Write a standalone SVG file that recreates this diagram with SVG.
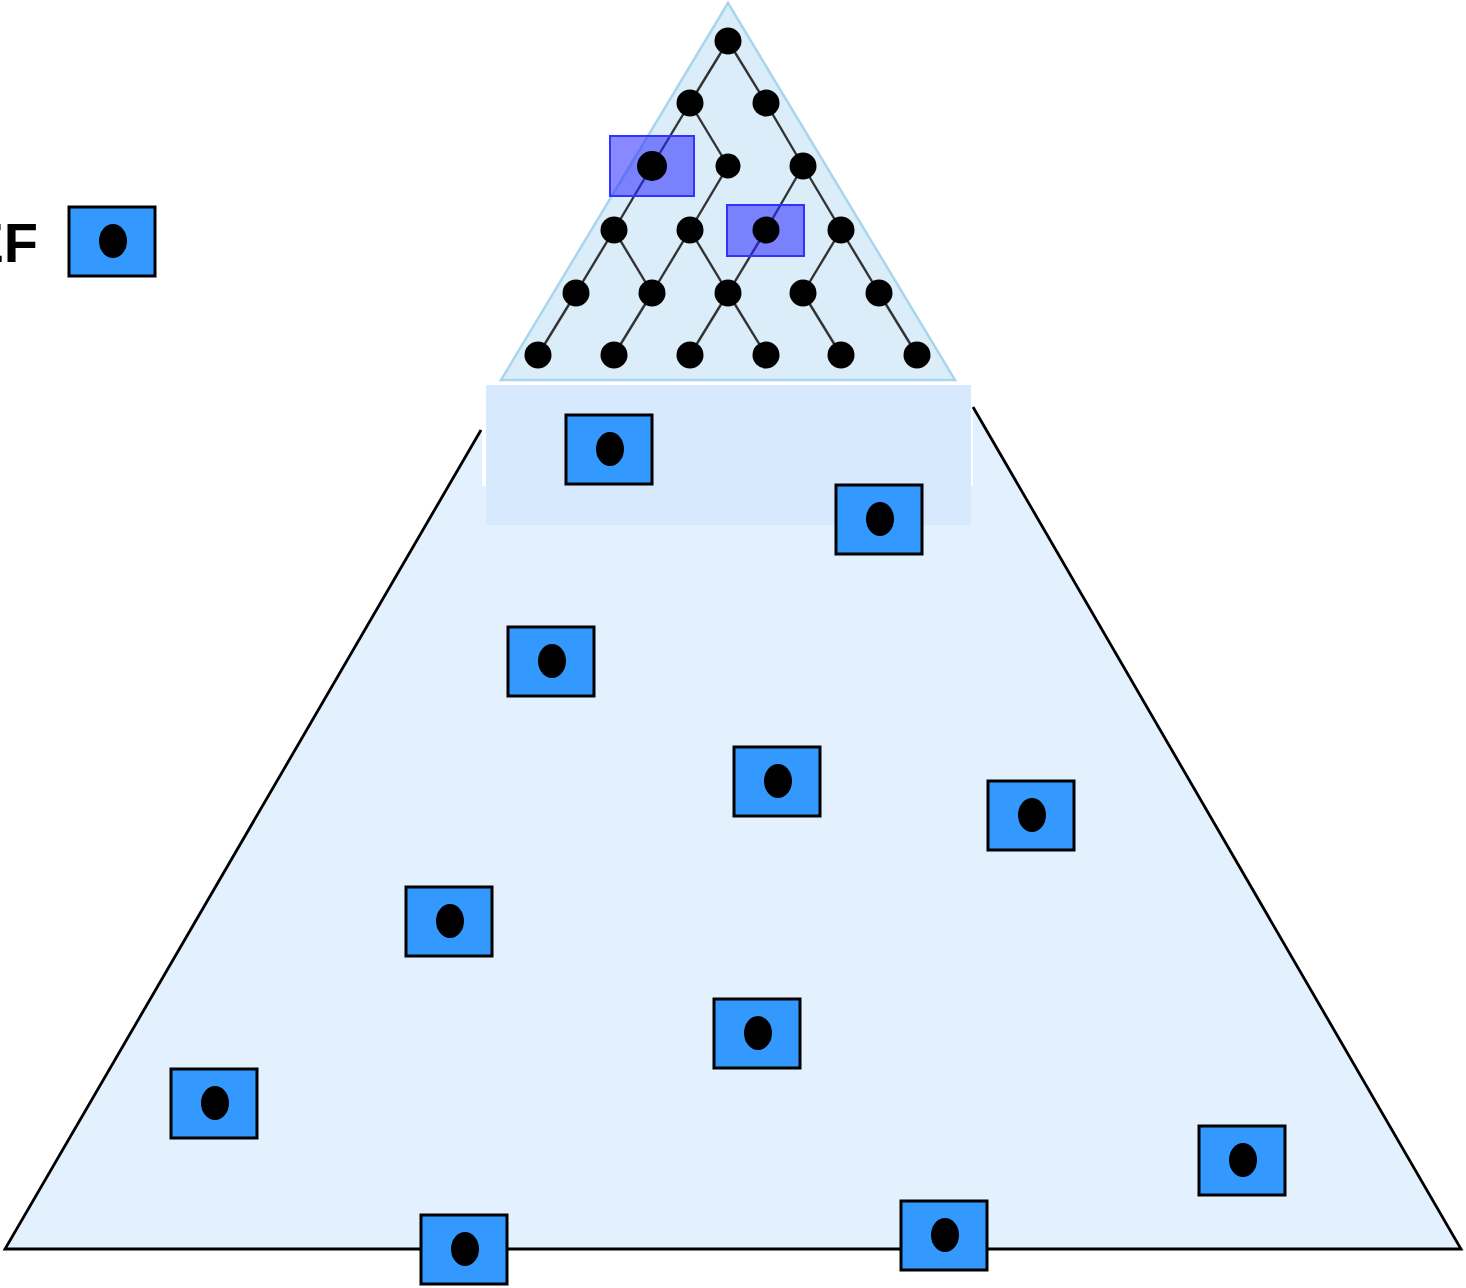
<svg xmlns="http://www.w3.org/2000/svg" width="1466" height="1288" viewBox="0 0 1466 1288">
<style>
.box{fill:#3399ff;stroke:#000;stroke-width:3}
.dot{fill:#000}
.edge{stroke:#333;stroke-width:2.4;fill:none}
.hl{fill:rgba(40,40,255,0.55);stroke:#3333ff;stroke-width:2}
.lbl{font-family:"Liberation Sans",Arial,sans-serif;font-weight:bold;font-size:56px;fill:#000}
</style>
<defs>
<g id="cell"><rect class="box" x="-43" y="-35" width="86" height="69"/><ellipse class="dot" cx="1" cy="-1" rx="14" ry="17"/></g>
</defs>
<rect width="1466" height="1288" fill="#fff"/>
<g id="big-triangle">
<polygon points="5,1249 481,430 482,430 482,486 973,486 973,407 1461,1249" fill="#e3f1fe"/>
<polyline points="481,430 5,1249 1461,1249 973,407" fill="none" stroke="#000" stroke-width="2.8" stroke-linejoin="miter"/>
</g>
<g id="small-triangle">
<polygon points="728,3 501,380 955,380" fill="#dcedfa" stroke="#a8d6ec" stroke-width="2.5"/>
</g>
<rect id="band" x="486" y="385" width="485" height="140" fill="#d7e9fc"/>
<g id="connectors" class="edge">
<line x1="728" y1="41" x2="690" y2="103"/>
<line x1="728" y1="41" x2="766" y2="103"/>
<line x1="690" y1="103" x2="652" y2="166"/>
<line x1="690" y1="103" x2="728" y2="166"/>
<line x1="766" y1="103" x2="803" y2="166"/>
<line x1="652" y1="166" x2="614" y2="230"/>
<line x1="728" y1="166" x2="690" y2="230"/>
<line x1="803" y1="166" x2="766" y2="230"/>
<line x1="803" y1="166" x2="841" y2="230"/>
<line x1="614" y1="230" x2="576" y2="293"/>
<line x1="614" y1="230" x2="652" y2="293"/>
<line x1="690" y1="230" x2="652" y2="293"/>
<line x1="690" y1="230" x2="728" y2="293"/>
<line x1="766" y1="230" x2="728" y2="293"/>
<line x1="841" y1="230" x2="803" y2="293"/>
<line x1="841" y1="230" x2="879" y2="293"/>
<line x1="576" y1="293" x2="538" y2="355"/>
<line x1="652" y1="293" x2="614" y2="355"/>
<line x1="728" y1="293" x2="690" y2="355"/>
<line x1="728" y1="293" x2="766" y2="355"/>
<line x1="803" y1="293" x2="841" y2="355"/>
<line x1="879" y1="293" x2="917" y2="355"/>
</g>
<g id="highlight-1"><rect class="hl" x="610" y="136" width="84" height="60"/></g>
<g id="highlight-2"><rect class="hl" x="727" y="205" width="77" height="51"/></g>
<g id="tree-nodes" class="dot">
<circle id="t0" cx="728" cy="41" r="13.5"/>
<circle id="t1" cx="690" cy="103" r="13.5"/>
<circle id="t2" cx="766" cy="103" r="13.5"/>
<circle id="t3" cx="652" cy="166" r="15"/>
<circle id="t4" cx="728" cy="166" r="12.5"/>
<circle id="t5" cx="803" cy="166" r="13.5"/>
<circle id="t6" cx="614" cy="230" r="13.5"/>
<circle id="t7" cx="690" cy="230" r="13.5"/>
<circle id="t8" cx="766" cy="230" r="13.5"/>
<circle id="t9" cx="841" cy="230" r="13.5"/>
<circle id="t10" cx="576" cy="293" r="13.5"/>
<circle id="t11" cx="652" cy="293" r="13.5"/>
<circle id="t12" cx="728" cy="293" r="13.5"/>
<circle id="t13" cx="803" cy="293" r="13.5"/>
<circle id="t14" cx="879" cy="293" r="13.5"/>
<circle id="t15" cx="538" cy="355" r="13.5"/>
<circle id="t16" cx="614" cy="355" r="13.5"/>
<circle id="t17" cx="690" cy="355" r="13.5"/>
<circle id="t18" cx="766" cy="355" r="13.5"/>
<circle id="t19" cx="841" cy="355" r="13.5"/>
<circle id="t20" cx="917" cy="355" r="13.5"/>
</g>
<g id="legend">
<text class="lbl" x="38" y="262" text-anchor="end">EF</text>
<use href="#cell" x="112" y="242"/>
</g>
<g id="cell-1"><use href="#cell" x="609" y="450"/></g>
<g id="cell-2"><use href="#cell" x="879" y="520"/></g>
<g id="cell-3"><use href="#cell" x="551" y="662"/></g>
<g id="cell-4"><use href="#cell" x="777" y="782"/></g>
<g id="cell-5"><use href="#cell" x="1031" y="816"/></g>
<g id="cell-6"><use href="#cell" x="449" y="922"/></g>
<g id="cell-7"><use href="#cell" x="757" y="1034"/></g>
<g id="cell-8"><use href="#cell" x="214" y="1104"/></g>
<g id="cell-9"><use href="#cell" x="1242" y="1161"/></g>
<g id="cell-10"><use href="#cell" x="464" y="1250"/></g>
<g id="cell-11"><use href="#cell" x="944" y="1236"/></g>
</svg>
